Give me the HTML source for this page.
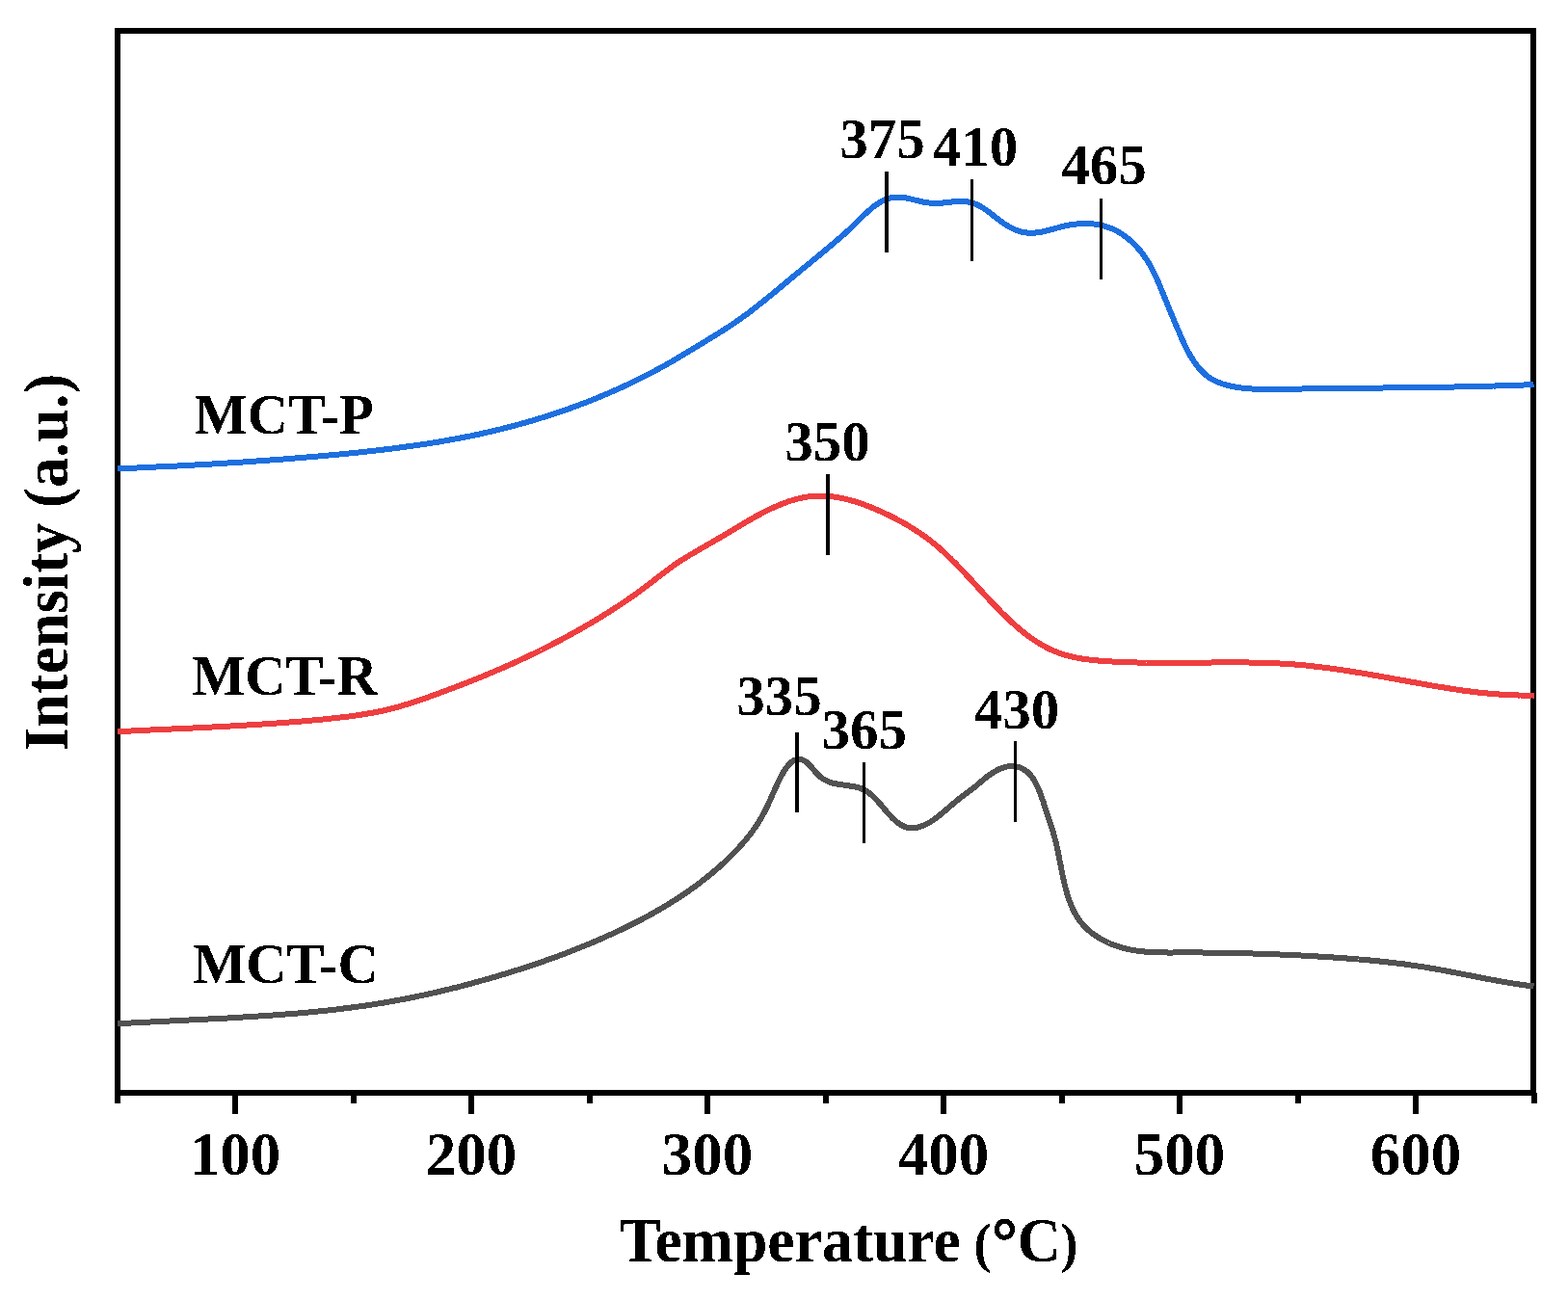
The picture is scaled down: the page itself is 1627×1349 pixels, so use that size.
<!DOCTYPE html>
<html><head><meta charset="utf-8"><title>TPR profiles</title>
<style>
html,body{margin:0;padding:0;background:#fff;}
body{width:1627px;height:1349px;overflow:hidden;}
svg{display:block;}
.t{font-family:"Liberation Serif", "Times New Roman", serif;font-weight:bold;fill:#000;}
</style></head><body>
<svg width="1627" height="1349" viewBox="0 0 1627 1349">
<defs><filter id="crisp" filterUnits="userSpaceOnUse" x="0" y="0" width="1627" height="1349"><feComponentTransfer><feFuncA type="discrete" tableValues="0 1"/></feComponentTransfer></filter></defs>
<rect width="1627" height="1349" fill="#fff"/>
<rect x="122" y="32" width="1469" height="1102" fill="none" stroke="#000" stroke-width="6" shape-rendering="crispEdges"/>
<rect x="119" y="1134" width="6" height="11" fill="#000"/>
<rect x="241" y="1134" width="6" height="22" fill="#000"/>
<rect x="364" y="1134" width="6" height="11" fill="#000"/>
<rect x="486" y="1134" width="6" height="22" fill="#000"/>
<rect x="609" y="1134" width="6" height="11" fill="#000"/>
<rect x="731" y="1134" width="6" height="22" fill="#000"/>
<rect x="854" y="1134" width="6" height="11" fill="#000"/>
<rect x="976" y="1134" width="6" height="22" fill="#000"/>
<rect x="1099" y="1134" width="6" height="11" fill="#000"/>
<rect x="1221" y="1134" width="6" height="22" fill="#000"/>
<rect x="1344" y="1134" width="6" height="11" fill="#000"/>
<rect x="1466" y="1134" width="6" height="22" fill="#000"/>
<rect x="1589" y="1134" width="6" height="11" fill="#000"/>
<path d="M122.0,486.3 L124.0,486.2 L126.0,486.1 L128.0,486.1 L130.0,486.0 L132.0,485.9 L134.0,485.8 L136.0,485.7 L138.0,485.6 L140.0,485.5 L142.0,485.5 L144.0,485.4 L146.0,485.3 L148.0,485.2 L150.0,485.1 L152.0,485.0 L154.1,484.9 L156.1,484.8 L158.1,484.7 L160.1,484.6 L162.1,484.5 L164.1,484.4 L166.1,484.3 L168.1,484.3 L170.1,484.2 L172.1,484.1 L174.1,484.0 L176.1,483.9 L178.1,483.8 L180.1,483.7 L182.1,483.6 L184.1,483.5 L186.1,483.4 L188.1,483.2 L190.1,483.1 L192.1,483.0 L194.1,482.9 L196.1,482.8 L198.1,482.7 L200.1,482.6 L202.1,482.5 L204.1,482.4 L206.1,482.3 L208.1,482.2 L210.1,482.1 L212.1,481.9 L214.1,481.8 L216.1,481.7 L218.1,481.6 L220.1,481.5 L222.1,481.4 L224.1,481.2 L226.1,481.1 L228.1,481.0 L230.1,480.9 L232.1,480.8 L234.1,480.6 L236.1,480.5 L238.1,480.4 L240.1,480.3 L242.1,480.1 L244.1,480.0 L246.1,479.9 L248.1,479.7 L250.1,479.6 L252.1,479.5 L254.1,479.3 L256.1,479.2 L258.1,479.1 L260.1,478.9 L262.1,478.8 L264.1,478.7 L266.1,478.5 L268.1,478.4 L270.1,478.2 L272.1,478.1 L274.1,478.0 L276.1,477.8 L278.1,477.7 L280.1,477.5 L282.1,477.4 L284.1,477.2 L286.1,477.1 L288.1,476.9 L290.1,476.8 L292.1,476.6 L294.1,476.5 L296.1,476.3 L298.1,476.2 L300.1,476.0 L302.1,475.8 L304.1,475.7 L306.1,475.5 L308.1,475.4 L310.1,475.2 L312.1,475.0 L314.1,474.9 L316.1,474.7 L318.0,474.5 L320.0,474.3 L322.0,474.2 L324.0,474.0 L326.0,473.8 L328.0,473.7 L330.0,473.5 L332.0,473.3 L334.0,473.1 L336.0,472.9 L338.0,472.8 L340.0,472.6 L342.0,472.4 L344.0,472.2 L346.0,472.0 L348.0,471.8 L350.0,471.6 L352.0,471.5 L354.0,471.3 L356.0,471.1 L358.0,470.9 L360.0,470.7 L362.0,470.5 L364.0,470.3 L366.0,470.1 L368.0,469.9 L370.0,469.7 L372.0,469.5 L373.9,469.2 L375.9,469.0 L377.9,468.8 L379.9,468.6 L381.9,468.4 L383.9,468.2 L385.9,468.0 L387.9,467.7 L389.9,467.5 L391.9,467.3 L393.9,467.0 L395.9,466.8 L397.9,466.6 L399.9,466.3 L401.8,466.1 L403.8,465.9 L405.8,465.6 L407.8,465.4 L409.8,465.1 L411.8,464.9 L413.8,464.6 L415.8,464.3 L417.8,464.1 L419.7,463.8 L421.7,463.5 L423.7,463.3 L425.7,463.0 L427.7,462.7 L429.7,462.4 L431.7,462.2 L433.6,461.9 L435.6,461.6 L437.6,461.3 L439.6,461.0 L441.6,460.7 L443.6,460.4 L445.5,460.1 L447.5,459.8 L449.5,459.4 L451.5,459.1 L453.4,458.8 L455.4,458.5 L457.4,458.1 L459.4,457.8 L461.3,457.5 L463.3,457.1 L465.3,456.8 L467.3,456.4 L469.2,456.1 L471.2,455.7 L473.2,455.3 L475.2,455.0 L477.1,454.6 L479.1,454.2 L481.1,453.8 L483.0,453.4 L485.0,453.1 L487.0,452.7 L488.9,452.3 L490.9,451.9 L492.8,451.4 L494.8,451.0 L496.8,450.6 L498.7,450.2 L500.7,449.8 L502.6,449.3 L504.6,448.9 L506.5,448.4 L508.5,448.0 L510.5,447.5 L512.4,447.1 L514.4,446.6 L516.3,446.1 L518.3,445.7 L520.2,445.2 L522.1,444.7 L524.1,444.2 L526.0,443.7 L528.0,443.2 L529.9,442.7 L531.9,442.2 L533.8,441.7 L535.7,441.2 L537.7,440.6 L539.6,440.1 L541.5,439.6 L543.5,439.0 L545.4,438.5 L547.3,437.9 L549.3,437.4 L551.2,436.8 L553.1,436.2 L555.0,435.7 L556.9,435.1 L558.9,434.5 L560.8,433.9 L562.7,433.3 L564.6,432.7 L566.5,432.1 L568.4,431.5 L570.3,430.9 L572.3,430.3 L574.2,429.7 L576.1,429.0 L578.0,428.4 L579.9,427.7 L581.8,427.1 L583.7,426.4 L585.6,425.8 L587.4,425.1 L589.3,424.5 L591.2,423.8 L593.1,423.1 L595.0,422.4 L596.9,421.7 L598.8,421.0 L600.6,420.3 L602.5,419.6 L604.4,418.9 L606.3,418.2 L608.1,417.5 L610.0,416.8 L611.9,416.0 L613.7,415.3 L615.6,414.5 L617.5,413.8 L619.3,413.0 L621.2,412.3 L623.0,411.5 L624.9,410.7 L626.7,410.0 L628.6,409.2 L630.4,408.4 L632.2,407.6 L634.1,406.8 L635.9,406.0 L637.7,405.2 L639.6,404.4 L641.4,403.6 L643.2,402.7 L645.1,401.9 L646.9,401.1 L648.7,400.2 L650.5,399.4 L652.3,398.5 L654.1,397.7 L655.9,396.8 L657.7,395.9 L659.5,395.0 L661.3,394.2 L663.1,393.3 L664.9,392.4 L666.7,391.5 L668.5,390.6 L670.3,389.7 L672.1,388.7 L673.8,387.8 L675.6,386.9 L677.4,386.0 L679.2,385.0 L680.9,384.1 L682.7,383.1 L684.5,382.2 L686.2,381.2 L688.0,380.2 L689.7,379.3 L691.5,378.3 L693.2,377.3 L695.0,376.3 L696.7,375.3 L698.4,374.3 L700.2,373.3 L701.9,372.3 L703.6,371.3 L705.4,370.2 L707.1,369.2 L708.8,368.2 L710.5,367.2 L712.2,366.1 L714.0,365.1 L715.7,364.1 L717.4,363.0 L719.1,362.0 L720.8,361.0 L722.5,359.9 L724.3,358.9 L726.0,357.8 L727.7,356.8 L729.4,355.7 L731.1,354.7 L732.8,353.6 L734.5,352.6 L736.2,351.5 L737.9,350.5 L739.6,349.4 L741.4,348.4 L743.1,347.3 L744.8,346.3 L746.5,345.2 L748.2,344.1 L749.9,343.1 L751.6,342.0 L753.2,340.9 L754.9,339.8 L756.6,338.8 L758.3,337.7 L759.9,336.5 L761.6,335.4 L763.2,334.3 L764.9,333.2 L766.5,332.0 L768.1,330.9 L769.7,329.7 L771.4,328.5 L773.0,327.4 L774.6,326.2 L776.2,325.0 L777.8,323.8 L779.4,322.6 L780.9,321.4 L782.5,320.2 L784.1,318.9 L785.7,317.7 L787.2,316.5 L788.8,315.2 L790.4,314.0 L791.9,312.8 L793.5,311.5 L795.0,310.3 L796.6,309.0 L798.1,307.7 L799.7,306.5 L801.2,305.2 L802.8,303.9 L804.3,302.6 L805.9,301.4 L807.4,300.1 L809.0,298.8 L810.5,297.5 L812.1,296.2 L813.6,294.9 L815.2,293.7 L816.7,292.4 L818.2,291.1 L819.8,289.8 L821.3,288.5 L822.9,287.2 L824.5,285.9 L826.0,284.6 L827.6,283.4 L829.1,282.1 L830.7,280.8 L832.2,279.5 L833.8,278.2 L835.4,276.9 L836.9,275.7 L838.5,274.4 L840.1,273.1 L841.6,271.8 L843.2,270.5 L844.7,269.3 L846.3,268.0 L847.8,266.7 L849.4,265.4 L850.9,264.2 L852.5,262.9 L854.0,261.6 L855.5,260.3 L857.0,259.1 L858.6,257.8 L860.1,256.5 L861.6,255.3 L863.1,254.0 L864.6,252.7 L866.1,251.5 L867.5,250.2 L869.0,248.9 L870.5,247.7 L872.0,246.4 L873.4,245.1 L874.9,243.8 L876.4,242.5 L877.8,241.1 L879.3,239.8 L880.8,238.5 L882.2,237.1 L883.7,235.7 L885.2,234.3 L886.6,232.9 L888.1,231.4 L889.6,230.0 L891.1,228.5 L892.6,227.0 L894.1,225.6 L895.6,224.1 L897.1,222.6 L898.7,221.2 L900.2,219.8 L901.8,218.4 L903.3,217.0 L904.9,215.7 L906.5,214.5 L908.2,213.2 L909.8,212.1 L911.4,211.0 L913.1,209.9 L914.8,209.0 L916.5,208.1 L918.3,207.3 L920.0,206.6 L921.8,205.9 L923.6,205.4 L925.4,205.0 L927.3,204.7 L929.2,204.5 L931.1,204.5 L933.0,204.5 L935.0,204.7 L937.0,204.9 L939.0,205.2 L941.0,205.6 L943.0,206.0 L945.0,206.5 L947.0,207.0 L949.1,207.5 L951.1,208.0 L953.1,208.5 L955.1,209.0 L957.1,209.4 L959.1,209.8 L961.0,210.1 L963.0,210.4 L964.9,210.6 L966.8,210.7 L968.8,210.8 L970.7,210.9 L972.6,210.9 L974.6,210.8 L976.5,210.7 L978.5,210.5 L980.5,210.3 L982.5,210.1 L984.5,209.9 L986.5,209.6 L988.5,209.4 L990.5,209.2 L992.5,209.0 L994.6,208.9 L996.6,208.8 L998.6,208.9 L1000.6,209.0 L1002.5,209.2 L1004.5,209.5 L1006.4,209.9 L1008.3,210.4 L1010.2,211.0 L1012.1,211.7 L1013.9,212.5 L1015.7,213.4 L1017.4,214.3 L1019.1,215.3 L1020.8,216.4 L1022.5,217.5 L1024.1,218.6 L1025.7,219.8 L1027.3,221.0 L1028.9,222.2 L1030.5,223.5 L1032.1,224.8 L1033.7,226.0 L1035.4,227.3 L1037.0,228.5 L1038.6,229.7 L1040.3,230.9 L1041.9,232.1 L1043.7,233.2 L1045.4,234.3 L1047.2,235.3 L1049.0,236.3 L1050.8,237.2 L1052.6,238.0 L1054.5,238.8 L1056.4,239.5 L1058.3,240.1 L1060.2,240.6 L1062.2,241.0 L1064.1,241.3 L1066.0,241.6 L1067.9,241.7 L1069.9,241.8 L1071.8,241.7 L1073.7,241.6 L1075.7,241.4 L1077.6,241.2 L1079.5,240.8 L1081.5,240.5 L1083.4,240.1 L1085.3,239.6 L1087.3,239.1 L1089.2,238.6 L1091.2,238.1 L1093.1,237.6 L1095.1,237.0 L1097.0,236.5 L1099.0,235.9 L1101.0,235.4 L1103.0,234.9 L1105.0,234.4 L1107.0,234.0 L1109.0,233.6 L1111.0,233.3 L1113.0,233.0 L1115.0,232.7 L1117.1,232.5 L1119.1,232.3 L1121.1,232.1 L1123.1,232.1 L1125.1,232.0 L1127.2,232.0 L1129.2,232.1 L1131.2,232.2 L1133.2,232.3 L1135.1,232.5 L1137.1,232.8 L1139.1,233.1 L1141.0,233.4 L1143.0,233.9 L1144.9,234.3 L1146.8,234.8 L1148.7,235.4 L1150.5,236.1 L1152.3,236.8 L1154.2,237.5 L1156.0,238.3 L1157.7,239.2 L1159.5,240.1 L1161.2,241.1 L1162.9,242.1 L1164.5,243.2 L1166.2,244.3 L1167.8,245.5 L1169.4,246.7 L1170.9,248.0 L1172.5,249.3 L1174.0,250.6 L1175.5,252.0 L1176.9,253.4 L1178.3,254.9 L1179.7,256.4 L1181.0,257.9 L1182.4,259.4 L1183.7,261.0 L1184.9,262.6 L1186.1,264.2 L1187.3,265.9 L1188.5,267.5 L1189.6,269.2 L1190.7,270.9 L1191.8,272.7 L1192.8,274.4 L1193.8,276.2 L1194.8,277.9 L1195.7,279.7 L1196.6,281.5 L1197.5,283.3 L1198.4,285.1 L1199.3,287.0 L1200.1,288.8 L1200.9,290.6 L1201.7,292.5 L1202.5,294.3 L1203.3,296.2 L1204.1,298.0 L1204.8,299.9 L1205.6,301.7 L1206.3,303.6 L1207.1,305.4 L1207.8,307.2 L1208.5,309.1 L1209.3,310.9 L1210.0,312.7 L1210.8,314.5 L1211.5,316.3 L1212.2,318.1 L1213.0,319.9 L1213.7,321.7 L1214.5,323.5 L1215.2,325.3 L1216.0,327.1 L1216.7,329.0 L1217.5,330.8 L1218.3,332.6 L1219.0,334.4 L1219.8,336.3 L1220.6,338.1 L1221.4,339.9 L1222.2,341.8 L1223.0,343.7 L1223.8,345.6 L1224.6,347.4 L1225.4,349.3 L1226.2,351.2 L1227.1,353.1 L1227.9,355.0 L1228.8,356.9 L1229.7,358.8 L1230.6,360.7 L1231.6,362.5 L1232.5,364.4 L1233.5,366.2 L1234.5,368.0 L1235.5,369.8 L1236.6,371.5 L1237.7,373.3 L1238.8,374.9 L1239.9,376.6 L1241.1,378.2 L1242.3,379.8 L1243.5,381.3 L1244.8,382.8 L1246.1,384.3 L1247.5,385.7 L1248.9,387.0 L1250.3,388.3 L1251.8,389.6 L1253.3,390.7 L1254.9,391.9 L1256.5,392.9 L1258.2,393.9 L1259.9,394.8 L1261.6,395.7 L1263.4,396.5 L1265.2,397.2 L1267.1,397.9 L1269.0,398.5 L1270.9,399.1 L1272.8,399.7 L1274.8,400.2 L1276.7,400.6 L1278.7,401.0 L1280.8,401.4 L1282.8,401.8 L1284.8,402.1 L1286.8,402.4 L1288.9,402.6 L1290.9,402.8 L1292.9,403.0 L1295.0,403.2 L1297.0,403.4 L1299.0,403.5 L1301.1,403.6 L1303.1,403.7 L1305.1,403.8 L1307.1,403.9 L1309.1,403.9 L1311.1,403.9 L1313.1,404.0 L1315.1,404.0 L1317.1,404.0 L1319.1,404.0 L1321.1,404.0 L1323.1,403.9 L1325.1,403.9 L1327.1,403.9 L1329.1,403.9 L1331.1,403.8 L1333.1,403.8 L1335.0,403.7 L1337.0,403.7 L1339.0,403.7 L1341.0,403.6 L1343.0,403.6 L1345.0,403.6 L1347.0,403.5 L1349.0,403.5 L1351.0,403.5 L1353.0,403.4 L1355.0,403.4 L1357.0,403.4 L1359.0,403.3 L1361.0,403.3 L1363.0,403.3 L1365.0,403.3 L1367.0,403.2 L1369.0,403.2 L1371.0,403.2 L1373.0,403.2 L1375.0,403.1 L1377.0,403.1 L1379.0,403.1 L1381.0,403.1 L1383.0,403.0 L1385.0,403.0 L1387.0,403.0 L1389.0,403.0 L1391.0,402.9 L1393.0,402.9 L1395.0,402.9 L1397.0,402.9 L1399.0,402.8 L1401.0,402.8 L1403.0,402.8 L1405.0,402.8 L1407.0,402.8 L1409.0,402.7 L1411.0,402.7 L1413.0,402.7 L1415.0,402.7 L1417.0,402.7 L1419.1,402.6 L1421.1,402.6 L1423.1,402.6 L1425.1,402.6 L1427.1,402.6 L1429.1,402.5 L1431.1,402.5 L1433.1,402.5 L1435.1,402.5 L1437.1,402.4 L1439.1,402.4 L1441.1,402.4 L1443.1,402.4 L1445.1,402.4 L1447.2,402.3 L1449.2,402.3 L1451.2,402.3 L1453.2,402.3 L1455.2,402.2 L1457.2,402.2 L1459.2,402.2 L1461.2,402.2 L1463.2,402.2 L1465.2,402.1 L1467.2,402.1 L1469.2,402.1 L1471.2,402.1 L1473.3,402.0 L1475.3,402.0 L1477.3,402.0 L1479.3,401.9 L1481.3,401.9 L1483.3,401.9 L1485.3,401.9 L1487.3,401.8 L1489.3,401.8 L1491.3,401.8 L1493.3,401.7 L1495.3,401.7 L1497.4,401.7 L1499.4,401.6 L1501.4,401.6 L1503.4,401.6 L1505.4,401.5 L1507.4,401.5 L1509.4,401.5 L1511.4,401.4 L1513.4,401.4 L1515.4,401.3 L1517.4,401.3 L1519.4,401.3 L1521.4,401.2 L1523.4,401.2 L1525.4,401.1 L1527.5,401.1 L1529.5,401.0 L1531.5,401.0 L1533.5,401.0 L1535.5,400.9 L1537.5,400.9 L1539.5,400.8 L1541.5,400.8 L1543.5,400.7 L1545.5,400.6 L1547.5,400.6 L1549.5,400.5 L1551.5,400.5 L1553.5,400.4 L1555.5,400.4 L1557.5,400.3 L1559.5,400.2 L1561.5,400.2 L1563.5,400.1 L1565.5,400.1 L1567.5,400.0 L1569.5,399.9 L1571.5,399.9 L1573.5,399.8 L1575.5,399.7 L1577.5,399.6 L1579.5,399.6 L1581.5,399.5 L1583.5,399.4 L1585.5,399.3 L1587.5,399.3 L1589.5,399.2 L1591.5,399.1" stroke="#1D6FDF" fill="none" stroke-width="6" stroke-linejoin="round" shape-rendering="crispEdges"/>
<path d="M122.0,759.2 L124.0,759.1 L126.0,759.0 L128.0,758.9 L130.0,758.8 L132.0,758.7 L134.0,758.6 L136.0,758.5 L138.0,758.4 L140.0,758.3 L142.0,758.2 L144.0,758.1 L146.0,758.0 L148.0,757.9 L150.0,757.8 L152.0,757.7 L154.0,757.6 L156.0,757.5 L158.0,757.4 L160.0,757.3 L162.0,757.2 L164.0,757.1 L166.0,757.1 L168.0,757.0 L170.0,756.9 L172.0,756.8 L174.0,756.7 L176.0,756.6 L178.0,756.5 L180.0,756.4 L182.0,756.3 L184.0,756.2 L186.0,756.1 L188.0,756.0 L190.0,755.9 L192.0,755.8 L194.0,755.8 L196.0,755.7 L198.0,755.6 L200.0,755.5 L202.0,755.4 L204.0,755.3 L206.0,755.2 L208.0,755.1 L210.0,755.0 L212.0,754.9 L214.0,754.8 L216.0,754.7 L218.0,754.6 L220.0,754.5 L222.0,754.4 L224.0,754.3 L226.0,754.2 L228.0,754.1 L230.0,754.0 L232.0,753.9 L234.0,753.8 L236.0,753.7 L238.0,753.6 L240.0,753.4 L242.0,753.3 L244.0,753.2 L246.0,753.1 L248.0,753.0 L250.0,752.9 L252.0,752.8 L254.0,752.7 L256.0,752.5 L258.0,752.4 L260.0,752.3 L262.0,752.2 L264.0,752.0 L266.0,751.9 L268.0,751.8 L270.0,751.7 L272.0,751.5 L274.0,751.4 L276.0,751.3 L278.0,751.1 L280.0,751.0 L282.0,750.9 L284.0,750.7 L285.9,750.6 L287.9,750.4 L289.9,750.3 L291.9,750.1 L293.9,750.0 L295.9,749.8 L297.9,749.7 L299.9,749.5 L301.9,749.4 L303.9,749.2 L305.9,749.1 L307.9,748.9 L309.9,748.7 L311.9,748.6 L313.9,748.4 L315.9,748.2 L317.9,748.0 L319.9,747.9 L321.9,747.7 L323.9,747.5 L325.9,747.3 L327.9,747.1 L329.9,746.9 L331.9,746.7 L333.9,746.6 L335.9,746.4 L337.9,746.2 L339.9,746.0 L341.9,745.7 L343.9,745.5 L345.9,745.3 L347.9,745.1 L349.8,744.9 L351.8,744.7 L353.8,744.4 L355.8,744.2 L357.8,744.0 L359.8,743.7 L361.8,743.5 L363.8,743.2 L365.8,743.0 L367.8,742.7 L369.8,742.4 L371.7,742.1 L373.7,741.8 L375.7,741.5 L377.7,741.2 L379.7,740.9 L381.6,740.5 L383.6,740.2 L385.6,739.8 L387.5,739.5 L389.5,739.1 L391.5,738.7 L393.4,738.3 L395.4,737.9 L397.3,737.5 L399.3,737.0 L401.2,736.6 L403.2,736.1 L405.1,735.6 L407.0,735.1 L409.0,734.6 L410.9,734.1 L412.8,733.6 L414.8,733.0 L416.7,732.5 L418.6,731.9 L420.5,731.3 L422.4,730.8 L424.3,730.2 L426.2,729.6 L428.1,728.9 L430.0,728.3 L431.9,727.7 L433.8,727.1 L435.7,726.4 L437.6,725.8 L439.5,725.1 L441.4,724.5 L443.3,723.8 L445.2,723.1 L447.1,722.4 L449.0,721.8 L450.8,721.1 L452.7,720.4 L454.6,719.7 L456.5,719.0 L458.4,718.3 L460.2,717.6 L462.1,716.9 L464.0,716.2 L465.9,715.5 L467.7,714.8 L469.6,714.1 L471.5,713.4 L473.4,712.7 L475.2,712.0 L477.1,711.2 L479.0,710.5 L480.8,709.8 L482.7,709.1 L484.6,708.3 L486.4,707.6 L488.3,706.9 L490.2,706.1 L492.0,705.4 L493.9,704.6 L495.7,703.9 L497.6,703.1 L499.5,702.4 L501.3,701.6 L503.2,700.9 L505.0,700.1 L506.9,699.3 L508.7,698.6 L510.6,697.8 L512.4,697.0 L514.3,696.2 L516.1,695.4 L517.9,694.6 L519.8,693.9 L521.6,693.1 L523.4,692.3 L525.3,691.4 L527.1,690.6 L528.9,689.8 L530.8,689.0 L532.6,688.2 L534.4,687.3 L536.2,686.5 L538.1,685.7 L539.9,684.8 L541.7,684.0 L543.5,683.2 L545.3,682.3 L547.1,681.4 L548.9,680.6 L550.7,679.7 L552.5,678.9 L554.4,678.0 L556.2,677.1 L557.9,676.2 L559.7,675.3 L561.5,674.5 L563.3,673.6 L565.1,672.7 L566.9,671.8 L568.7,670.9 L570.5,669.9 L572.3,669.0 L574.0,668.1 L575.8,667.2 L577.6,666.3 L579.4,665.3 L581.1,664.4 L582.9,663.5 L584.7,662.5 L586.4,661.6 L588.2,660.6 L589.9,659.6 L591.7,658.7 L593.5,657.7 L595.2,656.7 L597.0,655.8 L598.7,654.8 L600.4,653.8 L602.2,652.8 L603.9,651.8 L605.7,650.8 L607.4,649.8 L609.1,648.8 L610.9,647.8 L612.6,646.8 L614.3,645.8 L616.0,644.8 L617.7,643.7 L619.5,642.7 L621.2,641.7 L622.9,640.6 L624.6,639.6 L626.3,638.5 L628.0,637.5 L629.7,636.4 L631.4,635.3 L633.1,634.3 L634.8,633.2 L636.5,632.1 L638.1,631.0 L639.8,629.9 L641.5,628.8 L643.2,627.7 L644.8,626.6 L646.5,625.5 L648.2,624.4 L649.8,623.3 L651.5,622.2 L653.1,621.0 L654.8,619.9 L656.4,618.7 L658.1,617.6 L659.7,616.4 L661.3,615.2 L662.9,614.1 L664.6,612.9 L666.2,611.7 L667.8,610.5 L669.4,609.3 L671.0,608.1 L672.6,606.9 L674.2,605.7 L675.7,604.4 L677.3,603.2 L678.9,602.0 L680.5,600.7 L682.1,599.5 L683.6,598.3 L685.2,597.0 L686.8,595.8 L688.4,594.6 L690.0,593.4 L691.6,592.2 L693.2,591.0 L694.8,589.8 L696.4,588.6 L698.0,587.5 L699.7,586.3 L701.3,585.2 L703.0,584.1 L704.7,583.0 L706.3,581.9 L708.0,580.8 L709.7,579.8 L711.4,578.7 L713.1,577.7 L714.8,576.6 L716.5,575.6 L718.3,574.6 L720.0,573.5 L721.7,572.5 L723.4,571.5 L725.2,570.5 L726.9,569.5 L728.6,568.5 L730.4,567.5 L732.1,566.5 L733.8,565.5 L735.6,564.5 L737.3,563.5 L739.1,562.5 L740.8,561.5 L742.5,560.5 L744.2,559.5 L746.0,558.5 L747.7,557.5 L749.4,556.5 L751.2,555.5 L752.9,554.4 L754.6,553.4 L756.3,552.4 L758.0,551.4 L759.7,550.4 L761.4,549.3 L763.2,548.3 L764.9,547.3 L766.6,546.3 L768.3,545.2 L770.0,544.2 L771.7,543.2 L773.4,542.2 L775.1,541.2 L776.8,540.2 L778.6,539.2 L780.3,538.2 L782.0,537.2 L783.8,536.2 L785.5,535.2 L787.3,534.3 L789.1,533.3 L790.9,532.4 L792.6,531.5 L794.4,530.6 L796.3,529.7 L798.1,528.8 L799.9,527.9 L801.8,527.1 L803.6,526.2 L805.5,525.4 L807.3,524.6 L809.2,523.8 L811.1,523.0 L813.0,522.3 L814.9,521.6 L816.8,520.9 L818.7,520.2 L820.7,519.6 L822.6,519.0 L824.5,518.4 L826.5,517.9 L828.4,517.4 L830.4,516.9 L832.3,516.5 L834.3,516.1 L836.2,515.7 L838.2,515.5 L840.1,515.2 L842.1,515.0 L844.1,514.8 L846.0,514.7 L848.0,514.6 L850.0,514.6 L851.9,514.6 L853.9,514.6 L855.8,514.7 L857.8,514.8 L859.8,515.0 L861.7,515.2 L863.7,515.4 L865.7,515.6 L867.6,515.9 L869.6,516.2 L871.5,516.6 L873.5,517.0 L875.4,517.4 L877.4,517.8 L879.3,518.3 L881.2,518.8 L883.2,519.3 L885.1,519.9 L887.0,520.4 L889.0,521.0 L890.9,521.7 L892.8,522.3 L894.7,523.0 L896.6,523.7 L898.5,524.4 L900.4,525.1 L902.3,525.8 L904.2,526.6 L906.1,527.4 L907.9,528.1 L909.8,528.9 L911.7,529.8 L913.5,530.6 L915.4,531.4 L917.2,532.3 L919.0,533.2 L920.8,534.0 L922.7,534.9 L924.5,535.8 L926.3,536.7 L928.1,537.6 L929.8,538.5 L931.6,539.5 L933.4,540.4 L935.1,541.4 L936.9,542.4 L938.6,543.3 L940.4,544.3 L942.1,545.3 L943.8,546.4 L945.5,547.4 L947.2,548.4 L948.9,549.5 L950.5,550.6 L952.2,551.7 L953.9,552.8 L955.5,553.9 L957.1,555.0 L958.8,556.2 L960.4,557.3 L962.0,558.5 L963.6,559.7 L965.1,560.9 L966.7,562.1 L968.3,563.4 L969.8,564.6 L971.4,565.9 L972.9,567.2 L974.4,568.5 L975.9,569.9 L977.4,571.2 L978.9,572.5 L980.4,573.9 L981.8,575.3 L983.3,576.6 L984.7,578.0 L986.2,579.4 L987.6,580.9 L989.0,582.3 L990.5,583.7 L991.9,585.1 L993.3,586.6 L994.7,588.0 L996.1,589.5 L997.5,590.9 L998.9,592.4 L1000.2,593.8 L1001.6,595.3 L1003.0,596.8 L1004.3,598.2 L1005.7,599.7 L1007.0,601.2 L1008.4,602.6 L1009.7,604.1 L1011.1,605.6 L1012.4,607.0 L1013.8,608.5 L1015.1,610.0 L1016.5,611.4 L1017.8,612.9 L1019.1,614.3 L1020.5,615.8 L1021.8,617.3 L1023.2,618.7 L1024.5,620.2 L1025.9,621.6 L1027.2,623.1 L1028.6,624.5 L1030.0,626.0 L1031.3,627.4 L1032.7,628.8 L1034.1,630.3 L1035.5,631.7 L1036.9,633.1 L1038.3,634.6 L1039.7,636.0 L1041.2,637.4 L1042.6,638.8 L1044.0,640.2 L1045.5,641.6 L1047.0,643.0 L1048.5,644.4 L1049.9,645.8 L1051.4,647.1 L1053.0,648.5 L1054.5,649.8 L1056.0,651.2 L1057.6,652.5 L1059.1,653.8 L1060.7,655.1 L1062.3,656.3 L1063.8,657.6 L1065.4,658.8 L1067.1,660.0 L1068.7,661.2 L1070.3,662.4 L1072.0,663.5 L1073.6,664.6 L1075.3,665.7 L1077.0,666.8 L1078.7,667.8 L1080.4,668.8 L1082.1,669.8 L1083.8,670.8 L1085.6,671.7 L1087.3,672.6 L1089.1,673.5 L1090.9,674.3 L1092.7,675.1 L1094.5,675.9 L1096.4,676.6 L1098.2,677.3 L1100.1,678.0 L1101.9,678.6 L1103.8,679.2 L1105.7,679.8 L1107.6,680.3 L1109.6,680.8 L1111.5,681.3 L1113.4,681.7 L1115.4,682.2 L1117.3,682.6 L1119.3,682.9 L1121.3,683.3 L1123.2,683.6 L1125.2,683.9 L1127.2,684.2 L1129.2,684.4 L1131.2,684.7 L1133.2,684.9 L1135.2,685.1 L1137.3,685.3 L1139.3,685.5 L1141.3,685.7 L1143.3,685.8 L1145.3,686.0 L1147.4,686.1 L1149.4,686.2 L1151.4,686.4 L1153.4,686.5 L1155.4,686.6 L1157.5,686.7 L1159.5,686.8 L1161.5,686.9 L1163.5,687.0 L1165.5,687.0 L1167.5,687.1 L1169.5,687.2 L1171.5,687.2 L1173.5,687.3 L1175.5,687.4 L1177.5,687.4 L1179.5,687.5 L1181.5,687.5 L1183.5,687.6 L1185.5,687.6 L1187.5,687.6 L1189.5,687.7 L1191.5,687.7 L1193.5,687.7 L1195.5,687.7 L1197.5,687.7 L1199.5,687.8 L1201.5,687.8 L1203.5,687.8 L1205.5,687.8 L1207.5,687.8 L1209.5,687.8 L1211.5,687.8 L1213.5,687.8 L1215.5,687.8 L1217.4,687.8 L1219.4,687.8 L1221.4,687.8 L1223.4,687.8 L1225.4,687.7 L1227.4,687.7 L1229.4,687.7 L1231.4,687.7 L1233.4,687.7 L1235.4,687.7 L1237.4,687.6 L1239.4,687.6 L1241.4,687.6 L1243.4,687.6 L1245.4,687.6 L1247.4,687.6 L1249.4,687.5 L1251.4,687.5 L1253.4,687.5 L1255.4,687.5 L1257.4,687.5 L1259.4,687.4 L1261.4,687.4 L1263.4,687.4 L1265.4,687.4 L1267.4,687.4 L1269.4,687.4 L1271.4,687.4 L1273.4,687.4 L1275.4,687.4 L1277.4,687.4 L1279.4,687.4 L1281.4,687.4 L1283.5,687.4 L1285.5,687.4 L1287.5,687.4 L1289.5,687.4 L1291.5,687.4 L1293.5,687.4 L1295.5,687.5 L1297.5,687.5 L1299.5,687.5 L1301.5,687.6 L1303.6,687.6 L1305.6,687.7 L1307.6,687.7 L1309.6,687.8 L1311.6,687.8 L1313.6,687.9 L1315.6,688.0 L1317.6,688.0 L1319.6,688.1 L1321.6,688.2 L1323.6,688.3 L1325.6,688.4 L1327.6,688.5 L1329.6,688.6 L1331.6,688.7 L1333.6,688.8 L1335.6,689.0 L1337.6,689.1 L1339.6,689.2 L1341.6,689.4 L1343.6,689.5 L1345.6,689.7 L1347.6,689.9 L1349.6,690.1 L1351.6,690.2 L1353.6,690.4 L1355.6,690.6 L1357.6,690.8 L1359.6,691.0 L1361.6,691.3 L1363.6,691.5 L1365.5,691.7 L1367.5,691.9 L1369.5,692.2 L1371.5,692.4 L1373.5,692.7 L1375.5,692.9 L1377.4,693.2 L1379.4,693.4 L1381.4,693.7 L1383.4,694.0 L1385.4,694.3 L1387.3,694.5 L1389.3,694.8 L1391.3,695.1 L1393.3,695.4 L1395.3,695.7 L1397.2,696.0 L1399.2,696.3 L1401.2,696.6 L1403.2,696.9 L1405.1,697.3 L1407.1,697.6 L1409.1,697.9 L1411.1,698.2 L1413.0,698.5 L1415.0,698.9 L1417.0,699.2 L1418.9,699.5 L1420.9,699.9 L1422.9,700.2 L1424.9,700.6 L1426.8,700.9 L1428.8,701.2 L1430.8,701.6 L1432.7,701.9 L1434.7,702.3 L1436.7,702.6 L1438.7,703.0 L1440.6,703.3 L1442.6,703.7 L1444.6,704.1 L1446.5,704.4 L1448.5,704.8 L1450.5,705.1 L1452.5,705.5 L1454.4,705.8 L1456.4,706.2 L1458.4,706.5 L1460.3,706.9 L1462.3,707.3 L1464.3,707.6 L1466.2,708.0 L1468.2,708.3 L1470.2,708.7 L1472.2,709.0 L1474.1,709.4 L1476.1,709.7 L1478.1,710.1 L1480.1,710.4 L1482.0,710.8 L1484.0,711.1 L1486.0,711.5 L1488.0,711.8 L1489.9,712.1 L1491.9,712.5 L1493.9,712.8 L1495.9,713.1 L1497.8,713.4 L1499.8,713.8 L1501.8,714.1 L1503.8,714.4 L1505.7,714.7 L1507.7,715.0 L1509.7,715.3 L1511.7,715.6 L1513.7,715.9 L1515.7,716.2 L1517.6,716.5 L1519.6,716.7 L1521.6,717.0 L1523.6,717.3 L1525.6,717.5 L1527.6,717.8 L1529.5,718.0 L1531.5,718.3 L1533.5,718.5 L1535.5,718.7 L1537.5,718.9 L1539.5,719.1 L1541.5,719.3 L1543.5,719.5 L1545.5,719.7 L1547.4,719.9 L1549.4,720.1 L1551.4,720.2 L1553.4,720.4 L1555.4,720.5 L1557.4,720.7 L1559.4,720.8 L1561.4,720.9 L1563.4,721.0 L1565.4,721.1 L1567.4,721.2 L1569.4,721.3 L1571.4,721.4 L1573.4,721.4 L1575.4,721.5 L1577.4,721.5 L1579.4,721.6 L1581.4,721.6 L1583.5,721.6 L1585.5,721.6 L1587.5,721.6 L1589.5,721.5 L1591.5,721.5" stroke="#EE3E40" fill="none" stroke-width="6" stroke-linejoin="round" shape-rendering="crispEdges"/>
<path d="M122.0,1062.3 L124.0,1062.2 L126.0,1062.1 L128.0,1062.0 L130.0,1061.9 L132.0,1061.7 L134.0,1061.6 L136.0,1061.5 L138.0,1061.4 L140.0,1061.3 L142.0,1061.2 L144.0,1061.1 L146.0,1061.0 L148.0,1060.9 L150.0,1060.8 L152.0,1060.7 L154.0,1060.6 L156.0,1060.5 L158.0,1060.4 L160.0,1060.3 L162.0,1060.2 L164.0,1060.1 L166.0,1060.0 L168.0,1059.9 L170.0,1059.8 L172.0,1059.7 L174.0,1059.6 L176.0,1059.5 L178.0,1059.4 L180.0,1059.3 L182.0,1059.2 L184.0,1059.1 L186.0,1059.0 L188.0,1058.9 L190.0,1058.8 L192.0,1058.7 L194.0,1058.6 L196.0,1058.5 L198.0,1058.4 L200.0,1058.3 L202.0,1058.2 L204.0,1058.1 L206.0,1058.0 L208.0,1057.9 L210.0,1057.8 L212.0,1057.7 L214.0,1057.6 L216.0,1057.5 L218.0,1057.4 L220.0,1057.3 L222.0,1057.2 L224.0,1057.1 L226.0,1057.0 L228.0,1056.9 L230.0,1056.8 L232.0,1056.7 L234.0,1056.6 L236.0,1056.5 L238.0,1056.3 L240.0,1056.2 L242.0,1056.1 L244.0,1056.0 L246.0,1055.9 L248.0,1055.8 L250.0,1055.7 L252.0,1055.5 L254.0,1055.4 L256.0,1055.3 L258.0,1055.2 L260.0,1055.1 L262.0,1054.9 L264.0,1054.8 L266.0,1054.7 L268.0,1054.5 L270.0,1054.4 L272.0,1054.3 L274.0,1054.1 L276.0,1054.0 L278.0,1053.9 L280.0,1053.7 L282.0,1053.6 L284.0,1053.4 L286.0,1053.3 L288.0,1053.2 L290.0,1053.0 L292.0,1052.8 L294.0,1052.7 L296.0,1052.5 L298.0,1052.4 L300.0,1052.2 L302.0,1052.1 L304.0,1051.9 L306.0,1051.7 L308.0,1051.6 L309.9,1051.4 L311.9,1051.2 L313.9,1051.0 L315.9,1050.9 L317.9,1050.7 L319.9,1050.5 L321.9,1050.3 L323.9,1050.1 L325.9,1049.9 L327.9,1049.7 L329.9,1049.5 L331.9,1049.3 L333.8,1049.1 L335.8,1048.9 L337.8,1048.7 L339.8,1048.5 L341.8,1048.3 L343.8,1048.0 L345.8,1047.8 L347.8,1047.6 L349.7,1047.4 L351.7,1047.1 L353.7,1046.9 L355.7,1046.6 L357.7,1046.4 L359.7,1046.1 L361.6,1045.9 L363.6,1045.6 L365.6,1045.4 L367.6,1045.1 L369.6,1044.9 L371.6,1044.6 L373.5,1044.3 L375.5,1044.0 L377.5,1043.7 L379.5,1043.5 L381.5,1043.2 L383.4,1042.9 L385.4,1042.6 L387.4,1042.3 L389.4,1042.0 L391.3,1041.6 L393.3,1041.3 L395.3,1041.0 L397.3,1040.7 L399.2,1040.3 L401.2,1040.0 L403.2,1039.7 L405.2,1039.3 L407.1,1039.0 L409.1,1038.6 L411.1,1038.3 L413.1,1037.9 L415.0,1037.5 L417.0,1037.2 L419.0,1036.8 L420.9,1036.4 L422.9,1036.0 L424.9,1035.6 L426.8,1035.2 L428.8,1034.8 L430.8,1034.4 L432.7,1034.0 L434.7,1033.6 L436.6,1033.2 L438.6,1032.8 L440.6,1032.4 L442.5,1031.9 L444.5,1031.5 L446.5,1031.1 L448.4,1030.6 L450.4,1030.2 L452.3,1029.7 L454.3,1029.3 L456.2,1028.8 L458.2,1028.4 L460.1,1027.9 L462.1,1027.4 L464.0,1027.0 L466.0,1026.5 L467.9,1026.0 L469.9,1025.5 L471.8,1025.0 L473.8,1024.6 L475.7,1024.1 L477.7,1023.6 L479.6,1023.1 L481.6,1022.6 L483.5,1022.0 L485.4,1021.5 L487.4,1021.0 L489.3,1020.5 L491.2,1020.0 L493.2,1019.4 L495.1,1018.9 L497.0,1018.4 L499.0,1017.8 L500.9,1017.3 L502.8,1016.8 L504.8,1016.2 L506.7,1015.7 L508.6,1015.1 L510.5,1014.5 L512.5,1014.0 L514.4,1013.4 L516.3,1012.9 L518.2,1012.3 L520.1,1011.7 L522.1,1011.1 L524.0,1010.6 L525.9,1010.0 L527.8,1009.4 L529.7,1008.8 L531.6,1008.2 L533.5,1007.6 L535.4,1007.0 L537.4,1006.4 L539.3,1005.8 L541.2,1005.2 L543.1,1004.6 L545.0,1003.9 L546.9,1003.3 L548.8,1002.7 L550.7,1002.1 L552.5,1001.4 L554.4,1000.8 L556.3,1000.2 L558.2,999.5 L560.1,998.9 L562.0,998.2 L563.9,997.6 L565.8,996.9 L567.7,996.2 L569.5,995.6 L571.4,994.9 L573.3,994.2 L575.2,993.5 L577.0,992.9 L578.9,992.2 L580.8,991.5 L582.7,990.8 L584.5,990.1 L586.4,989.4 L588.3,988.7 L590.1,987.9 L592.0,987.2 L593.9,986.5 L595.7,985.8 L597.6,985.0 L599.4,984.3 L601.3,983.6 L603.1,982.8 L605.0,982.1 L606.8,981.3 L608.7,980.6 L610.5,979.8 L612.4,979.0 L614.2,978.2 L616.1,977.5 L617.9,976.7 L619.7,975.9 L621.6,975.1 L623.4,974.3 L625.2,973.5 L627.1,972.7 L628.9,971.9 L630.7,971.0 L632.6,970.2 L634.4,969.4 L636.2,968.6 L638.0,967.7 L639.9,966.9 L641.7,966.0 L643.5,965.2 L645.3,964.3 L647.1,963.4 L648.9,962.6 L650.7,961.7 L652.5,960.8 L654.3,959.9 L656.1,959.0 L657.9,958.1 L659.7,957.2 L661.5,956.3 L663.3,955.3 L665.1,954.4 L666.8,953.5 L668.6,952.5 L670.4,951.6 L672.1,950.6 L673.9,949.7 L675.7,948.7 L677.4,947.7 L679.2,946.7 L680.9,945.7 L682.6,944.7 L684.4,943.7 L686.1,942.7 L687.8,941.7 L689.6,940.7 L691.3,939.6 L693.0,938.6 L694.7,937.6 L696.4,936.5 L698.1,935.4 L699.8,934.4 L701.5,933.3 L703.2,932.2 L704.8,931.1 L706.5,930.0 L708.2,928.9 L709.8,927.8 L711.5,926.6 L713.1,925.5 L714.8,924.4 L716.4,923.2 L718.0,922.1 L719.7,920.9 L721.3,919.7 L722.9,918.5 L724.5,917.3 L726.1,916.1 L727.7,914.9 L729.2,913.7 L730.8,912.5 L732.4,911.2 L733.9,910.0 L735.5,908.7 L737.0,907.5 L738.6,906.2 L740.1,904.9 L741.6,903.6 L743.1,902.3 L744.7,901.0 L746.2,899.7 L747.6,898.4 L749.1,897.0 L750.6,895.7 L752.1,894.3 L753.5,892.9 L755.0,891.6 L756.4,890.2 L757.8,888.8 L759.3,887.4 L760.7,885.9 L762.1,884.5 L763.5,883.1 L764.8,881.6 L766.2,880.2 L767.5,878.7 L768.9,877.2 L770.2,875.7 L771.5,874.2 L772.8,872.7 L774.1,871.1 L775.3,869.6 L776.6,868.0 L777.8,866.5 L779.0,864.9 L780.2,863.3 L781.4,861.7 L782.6,860.0 L783.7,858.4 L784.8,856.8 L785.9,855.1 L787.0,853.4 L788.0,851.7 L789.1,850.0 L790.1,848.3 L791.1,846.6 L792.0,844.8 L793.0,843.1 L793.9,841.3 L794.8,839.5 L795.7,837.7 L796.5,835.9 L797.4,834.0 L798.2,832.2 L799.1,830.4 L799.9,828.5 L800.7,826.7 L801.5,824.9 L802.3,823.0 L803.1,821.2 L804.0,819.3 L804.8,817.5 L805.6,815.7 L806.5,813.8 L807.3,812.0 L808.2,810.2 L809.1,808.4 L810.0,806.7 L810.9,804.9 L811.9,803.1 L812.8,801.4 L813.9,799.7 L814.9,798.0 L816.1,796.4 L817.3,794.8 L818.6,793.3 L820.0,791.8 L821.5,790.5 L823.1,789.4 L824.8,788.6 L826.5,788.1 L828.3,787.9 L830.2,788.0 L832.0,788.4 L833.7,789.1 L835.4,790.0 L837.0,791.1 L838.5,792.4 L840.0,793.9 L841.4,795.4 L842.8,797.0 L844.2,798.7 L845.5,800.3 L846.9,801.9 L848.3,803.5 L849.8,804.9 L851.3,806.2 L852.8,807.4 L854.4,808.4 L856.0,809.4 L857.7,810.2 L859.4,811.0 L861.2,811.7 L863.1,812.3 L864.9,812.8 L866.9,813.2 L868.8,813.6 L870.8,813.9 L872.9,814.2 L874.9,814.5 L876.9,814.8 L879.0,815.1 L881.0,815.4 L883.0,815.7 L885.0,816.0 L887.0,816.4 L889.0,816.9 L890.9,817.4 L892.7,818.0 L894.5,818.7 L896.3,819.5 L898.0,820.4 L899.6,821.4 L901.2,822.4 L902.7,823.6 L904.2,824.9 L905.7,826.2 L907.1,827.5 L908.5,829.0 L909.9,830.4 L911.2,831.9 L912.6,833.5 L913.9,835.0 L915.3,836.6 L916.6,838.2 L917.9,839.8 L919.3,841.4 L920.6,843.0 L922.0,844.6 L923.4,846.1 L924.9,847.6 L926.3,849.1 L927.9,850.6 L929.4,851.9 L931.0,853.2 L932.6,854.4 L934.2,855.5 L935.9,856.5 L937.6,857.4 L939.4,858.1 L941.2,858.7 L943.0,859.1 L944.9,859.4 L946.8,859.4 L948.8,859.3 L950.7,859.0 L952.7,858.5 L954.7,857.9 L956.6,857.2 L958.5,856.4 L960.4,855.6 L962.2,854.6 L964.0,853.7 L965.7,852.7 L967.4,851.6 L969.1,850.5 L970.7,849.3 L972.3,848.1 L973.9,846.9 L975.4,845.7 L976.9,844.4 L978.5,843.1 L980.0,841.8 L981.5,840.5 L983.0,839.2 L984.5,837.9 L986.0,836.6 L987.5,835.3 L989.1,833.9 L990.6,832.7 L992.2,831.4 L993.8,830.1 L995.3,828.9 L996.9,827.7 L998.6,826.4 L1000.2,825.2 L1001.8,824.0 L1003.4,822.8 L1005.0,821.6 L1006.6,820.4 L1008.2,819.2 L1009.7,818.0 L1011.3,816.8 L1012.8,815.5 L1014.3,814.3 L1015.7,813.0 L1017.2,811.7 L1018.7,810.5 L1020.2,809.2 L1021.7,807.9 L1023.3,806.7 L1024.9,805.4 L1026.6,804.2 L1028.3,803.0 L1030.1,801.9 L1031.8,800.8 L1033.7,799.8 L1035.5,798.8 L1037.4,797.9 L1039.3,797.2 L1041.2,796.5 L1043.1,795.9 L1045.0,795.5 L1047.0,795.2 L1048.9,795.0 L1050.8,795.0 L1052.7,795.1 L1054.6,795.4 L1056.5,795.9 L1058.4,796.6 L1060.2,797.4 L1062.0,798.3 L1063.7,799.4 L1065.4,800.6 L1066.9,802.0 L1068.4,803.4 L1069.7,804.9 L1071.0,806.5 L1072.1,808.2 L1073.2,809.9 L1074.1,811.7 L1075.1,813.5 L1076.0,815.3 L1076.8,817.1 L1077.6,818.9 L1078.4,820.7 L1079.1,822.6 L1079.8,824.4 L1080.5,826.3 L1081.2,828.2 L1081.8,830.1 L1082.5,831.9 L1083.1,833.8 L1083.7,835.7 L1084.3,837.6 L1085.0,839.5 L1085.6,841.4 L1086.2,843.3 L1086.8,845.3 L1087.4,847.2 L1088.1,849.1 L1088.7,851.0 L1089.3,852.9 L1090.0,854.9 L1090.6,856.8 L1091.2,858.7 L1091.8,860.6 L1092.4,862.6 L1093.0,864.5 L1093.5,866.4 L1094.1,868.4 L1094.6,870.3 L1095.1,872.2 L1095.6,874.1 L1096.0,876.0 L1096.5,878.0 L1096.9,879.9 L1097.3,881.8 L1097.7,883.7 L1098.1,885.7 L1098.5,887.6 L1098.9,889.5 L1099.3,891.4 L1099.6,893.4 L1100.0,895.3 L1100.4,897.3 L1100.8,899.2 L1101.1,901.2 L1101.5,903.1 L1101.9,905.1 L1102.3,907.1 L1102.7,909.1 L1103.2,911.1 L1103.6,913.0 L1104.0,915.0 L1104.5,917.0 L1105.0,919.0 L1105.5,921.0 L1106.0,923.0 L1106.6,925.0 L1107.1,927.0 L1107.7,928.9 L1108.4,930.9 L1109.0,932.8 L1109.7,934.7 L1110.4,936.6 L1111.2,938.5 L1111.9,940.4 L1112.7,942.2 L1113.6,944.0 L1114.5,945.8 L1115.4,947.6 L1116.4,949.3 L1117.4,951.0 L1118.5,952.7 L1119.6,954.3 L1120.7,955.9 L1121.9,957.4 L1123.2,958.9 L1124.5,960.4 L1125.8,961.8 L1127.2,963.2 L1128.7,964.6 L1130.2,965.9 L1131.7,967.1 L1133.2,968.4 L1134.8,969.5 L1136.4,970.7 L1138.1,971.8 L1139.8,972.9 L1141.5,973.9 L1143.2,974.9 L1145.0,975.8 L1146.8,976.7 L1148.6,977.6 L1150.5,978.5 L1152.3,979.3 L1154.2,980.0 L1156.1,980.7 L1158.0,981.4 L1159.9,982.1 L1161.8,982.7 L1163.8,983.2 L1165.7,983.8 L1167.7,984.3 L1169.6,984.7 L1171.6,985.2 L1173.5,985.6 L1175.5,985.9 L1177.5,986.3 L1179.4,986.6 L1181.4,986.8 L1183.4,987.1 L1185.4,987.3 L1187.4,987.5 L1189.4,987.7 L1191.3,987.8 L1193.3,988.0 L1195.3,988.1 L1197.3,988.2 L1199.3,988.2 L1201.3,988.3 L1203.3,988.4 L1205.3,988.4 L1207.3,988.4 L1209.4,988.4 L1211.4,988.5 L1213.4,988.5 L1215.4,988.5 L1217.4,988.5 L1219.4,988.4 L1221.4,988.4 L1223.4,988.4 L1225.4,988.4 L1227.4,988.4 L1229.4,988.4 L1231.5,988.4 L1233.5,988.4 L1235.5,988.4 L1237.5,988.4 L1239.5,988.4 L1241.5,988.4 L1243.5,988.4 L1245.5,988.4 L1247.5,988.5 L1249.5,988.5 L1251.5,988.5 L1253.5,988.5 L1255.5,988.5 L1257.5,988.6 L1259.5,988.6 L1261.5,988.6 L1263.6,988.6 L1265.6,988.7 L1267.6,988.7 L1269.6,988.7 L1271.6,988.8 L1273.6,988.8 L1275.6,988.8 L1277.6,988.9 L1279.6,988.9 L1281.6,989.0 L1283.6,989.0 L1285.6,989.1 L1287.6,989.1 L1289.6,989.2 L1291.6,989.2 L1293.6,989.3 L1295.6,989.3 L1297.6,989.4 L1299.6,989.5 L1301.6,989.5 L1303.6,989.6 L1305.6,989.7 L1307.6,989.7 L1309.6,989.8 L1311.6,989.9 L1313.6,989.9 L1315.6,990.0 L1317.6,990.1 L1319.6,990.2 L1321.6,990.2 L1323.6,990.3 L1325.6,990.4 L1327.6,990.5 L1329.6,990.6 L1331.6,990.7 L1333.6,990.8 L1335.6,990.8 L1337.6,990.9 L1339.6,991.0 L1341.6,991.1 L1343.6,991.2 L1345.6,991.3 L1347.5,991.4 L1349.5,991.5 L1351.5,991.6 L1353.5,991.7 L1355.5,991.9 L1357.5,992.0 L1359.5,992.1 L1361.5,992.2 L1363.5,992.3 L1365.5,992.4 L1367.5,992.5 L1369.5,992.7 L1371.5,992.8 L1373.5,992.9 L1375.5,993.0 L1377.5,993.1 L1379.5,993.3 L1381.5,993.4 L1383.5,993.5 L1385.5,993.7 L1387.5,993.8 L1389.5,993.9 L1391.5,994.1 L1393.5,994.2 L1395.5,994.4 L1397.5,994.5 L1399.5,994.7 L1401.5,994.8 L1403.5,995.0 L1405.5,995.1 L1407.5,995.3 L1409.5,995.5 L1411.5,995.6 L1413.5,995.8 L1415.5,996.0 L1417.5,996.2 L1419.5,996.3 L1421.5,996.5 L1423.5,996.7 L1425.5,996.9 L1427.5,997.1 L1429.4,997.3 L1431.4,997.5 L1433.4,997.7 L1435.4,997.9 L1437.4,998.1 L1439.4,998.4 L1441.4,998.6 L1443.4,998.8 L1445.4,999.1 L1447.4,999.3 L1449.3,999.5 L1451.3,999.8 L1453.3,1000.0 L1455.3,1000.3 L1457.3,1000.5 L1459.3,1000.8 L1461.3,1001.1 L1463.2,1001.4 L1465.2,1001.6 L1467.2,1001.9 L1469.2,1002.2 L1471.2,1002.5 L1473.1,1002.8 L1475.1,1003.1 L1477.1,1003.4 L1479.1,1003.7 L1481.1,1004.1 L1483.0,1004.4 L1485.0,1004.7 L1487.0,1005.1 L1489.0,1005.4 L1490.9,1005.8 L1492.9,1006.1 L1494.9,1006.5 L1496.8,1006.8 L1498.8,1007.2 L1500.8,1007.6 L1502.7,1007.9 L1504.7,1008.3 L1506.7,1008.7 L1508.6,1009.1 L1510.6,1009.4 L1512.6,1009.8 L1514.5,1010.2 L1516.5,1010.6 L1518.5,1011.0 L1520.4,1011.4 L1522.4,1011.7 L1524.4,1012.1 L1526.3,1012.5 L1528.3,1012.9 L1530.3,1013.3 L1532.2,1013.7 L1534.2,1014.1 L1536.2,1014.4 L1538.1,1014.8 L1540.1,1015.2 L1542.1,1015.6 L1544.0,1015.9 L1546.0,1016.3 L1548.0,1016.7 L1550.0,1017.1 L1551.9,1017.4 L1553.9,1017.8 L1555.9,1018.1 L1557.8,1018.5 L1559.8,1018.8 L1561.8,1019.2 L1563.8,1019.5 L1565.7,1019.8 L1567.7,1020.1 L1569.7,1020.5 L1571.7,1020.8 L1573.6,1021.1 L1575.6,1021.4 L1577.6,1021.7 L1579.6,1022.0 L1581.6,1022.2 L1583.6,1022.5 L1585.5,1022.8 L1587.5,1023.0 L1589.5,1023.3 L1591.5,1023.5" stroke="#515151" fill="none" stroke-width="6" stroke-linejoin="round" shape-rendering="crispEdges"/>
<rect x="918" y="178" width="4" height="84" fill="#000"/>
<rect x="1007" y="186" width="3" height="85" fill="#000"/>
<rect x="1141" y="206" width="3" height="84" fill="#000"/>
<rect x="857" y="492" width="4" height="84" fill="#000"/>
<rect x="825" y="760" width="4" height="83" fill="#000"/>
<rect x="895" y="791" width="3" height="84" fill="#000"/>
<rect x="1052" y="769" width="3" height="84" fill="#000"/>
<g filter="url(#crisp)">
<text x="244.0" y="1218.5" text-anchor="middle" class="t" font-size="63">100</text>
<text x="489.0" y="1218.5" text-anchor="middle" class="t" font-size="63">200</text>
<text x="734.0" y="1218.5" text-anchor="middle" class="t" font-size="63">300</text>
<text x="979.0" y="1218.5" text-anchor="middle" class="t" font-size="63">400</text>
<text x="1224.0" y="1218.5" text-anchor="middle" class="t" font-size="63">500</text>
<text x="1469.0" y="1218.5" text-anchor="middle" class="t" font-size="63">600</text>
<text x="915.4" y="164.0" text-anchor="middle" class="t" font-size="59">375</text>
<text x="1012.0" y="171.5" text-anchor="middle" class="t" font-size="59">410</text>
<text x="1145.5" y="190.5" text-anchor="middle" class="t" font-size="59">465</text>
<text x="858.4" y="477.5" text-anchor="middle" class="t" font-size="59">350</text>
<text x="808.6" y="741.5" text-anchor="middle" class="t" font-size="59">335</text>
<text x="896.8" y="776.5" text-anchor="middle" class="t" font-size="59">365</text>
<text x="1055.0" y="755.5" text-anchor="middle" class="t" font-size="59">430</text>
<text x="201.5" y="450.2" class="t" font-size="58.5">MCT-P</text>
<text x="199.0" y="720.8" class="t" font-size="58.5">MCT-R</text>
<text x="200.0" y="1020.2" class="t" font-size="58.5">MCT-C</text>
<g transform="translate(0,1309) scale(1,1.04)"><text x="642.9" y="0" class="t" font-size="63" textLength="354" lengthAdjust="spacingAndGlyphs">Temperature</text><text x="1010.6" y="0" class="t" font-size="54">(</text><text x="1029.2" y="2.3" class="t" font-size="66" stroke="#000" stroke-width="1.3">°</text><text x="1055.4" y="0" class="t" font-size="63">C</text><text x="1100.4" y="0" class="t" font-size="54">)</text></g>
<text transform="translate(69.3,583.5) rotate(-90) scale(1,1.045)" x="0" y="0" text-anchor="middle" class="t" font-size="62.7">Intensity (a.u.)</text>
</g>
</svg>
</body></html>
